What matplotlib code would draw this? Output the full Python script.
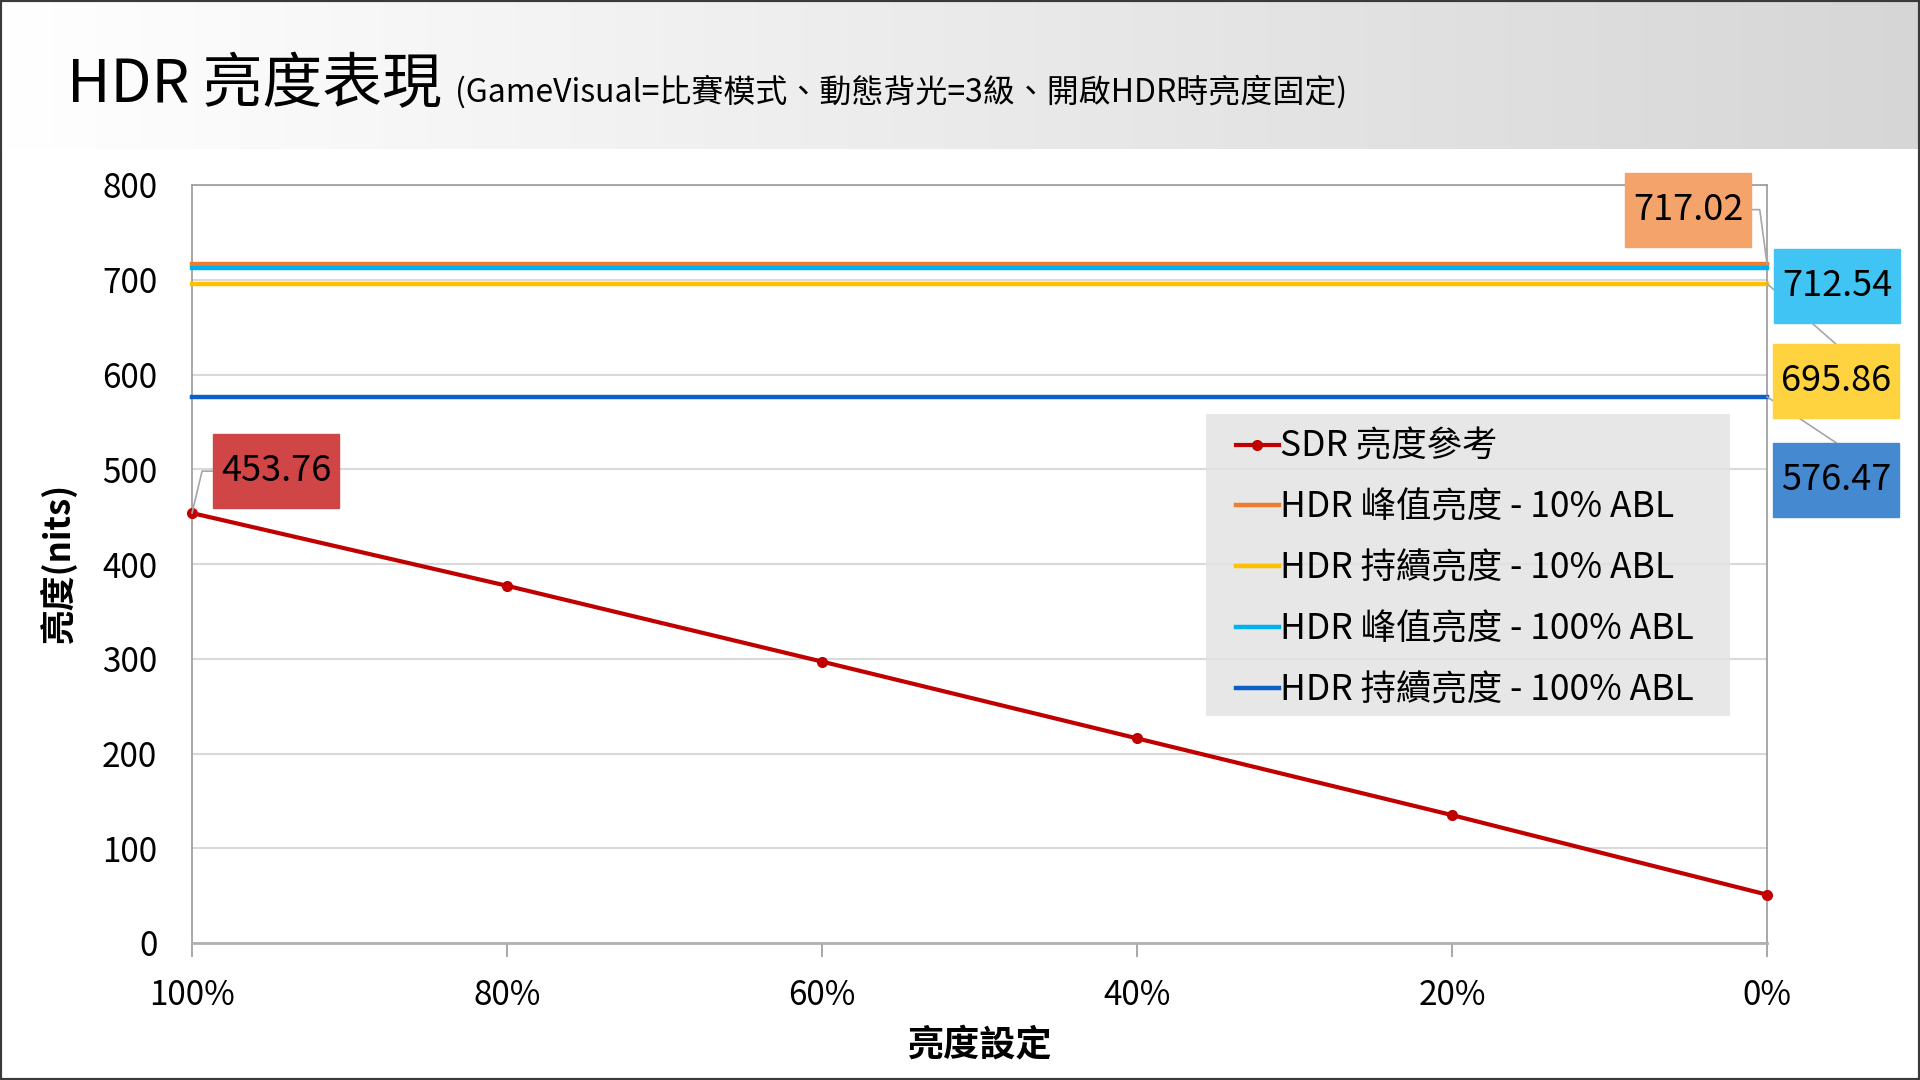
import numpy as np
import matplotlib
matplotlib.use("Agg")
import matplotlib.pyplot as plt
from matplotlib.patches import Rectangle

plt.rcParams["font.family"] = ["Noto Sans CJK TC", "DejaVu Sans"]

# data
settings = ["100%", "80%", "60%", "40%", "20%", "0%"]
sdr = [453.76, 377, 297, 216, 135, 51]
hdr_peak_10 = [717.02] * 6
hdr_sust_10 = [695.86] * 6
hdr_peak_100 = [712.54] * 6
hdr_sust_100 = [576.47] * 6

series_names = ["SDR 亮度參考", "HDR 峰值亮度 - 10% ABL", "HDR 持續亮度 - 10% ABL",
                "HDR 峰值亮度 - 100% ABL", "HDR 持續亮度 - 100% ABL"]
line_colors = ["#c00000", "#ed7d31", "#ffc000", "#00b0f0", "#0b5fc8"]
box_colors = ["#d04545", "#f4a36b", "#ffd23f", "#40c4f3", "#4589d0"]


def main() -> int:
    W, H = 1920, 1080
    fig = plt.figure(figsize=(19.2, 10.8), dpi=100)

    # header band with gradient
    hdr_h = 149 / H
    ax_head = fig.add_axes([0, 1 - hdr_h, 1, hdr_h], zorder=0)
    grad = np.linspace(1.0, 0.84, 256).reshape(1, -1)
    ax_head.imshow(np.dstack([grad, grad, grad]), aspect="auto", extent=[0, 1, 0, 1])
    ax_head.axis("off")

    fig.text(67 / W, 1 - 102 / H, "HDR 亮度表現", fontsize=43, fontweight="light",
             va="baseline", ha="left")
    fig.text(455 / W, 1 - 102 / H,
             "(GameVisual=比賽模式、動態背光=3級、開啟HDR時亮度固定)",
             fontsize=23, fontweight="light", va="baseline", ha="left")

    # plot area
    ax = fig.add_axes([192 / W, 1 - 943 / H, (1767 - 192) / W, (943 - 185) / H], zorder=2)
    x = np.arange(len(settings))

    ax.plot(x, sdr, color=line_colors[0], lw=3, marker="o", ms=7,
            label=series_names[0], clip_on=False, zorder=5)
    for vals, name, col in zip([hdr_peak_10, hdr_sust_10, hdr_peak_100, hdr_sust_100],
                               series_names[1:], line_colors[1:]):
        ax.plot(x, vals, color=col, lw=3.2, label=name, clip_on=False, zorder=4)

    ax.set_xlim(0, 5)
    ax.set_ylim(0, 800)
    ax.set_yticks(range(0, 801, 100))
    ax.set_xticks(x)
    ax.set_xticklabels(settings)
    ax.yaxis.grid(True, color="#d9d9d9", lw=1.5)
    ax.set_axisbelow(True)
    for s in ax.spines.values():
        s.set_color("#9a9a9a")
        s.set_linewidth(1.2)
    ax.spines["bottom"].set_color("#b0b0b0")
    ax.spines["bottom"].set_linewidth(2)
    ax.tick_params(axis="y", length=0, pad=25, labelsize=24)
    ax.tick_params(axis="x", length=10, width=1.2, color="#9a9a9a", pad=15, labelsize=24)

    ax.set_ylabel("亮度(nits)", fontsize=25, fontweight="bold", labelpad=18)
    ax.set_xlabel("亮度設定", fontsize=26, fontweight="bold", labelpad=10)

    # legend with its own backing box (semi-transparent, grid shows through)
    ax.add_patch(Rectangle((1206 / W, 1 - 716 / H), (1730 - 1206) / W, (716 - 414) / H,
                           transform=fig.transFigure, fc="#e3e3e3", ec="none",
                           alpha=0.85, zorder=5.5, clip_on=False))
    leg = ax.legend(loc="upper left", bbox_to_anchor=(1236 / W, 1 - 429 / H),
                    bbox_transform=fig.transFigure, fontsize=25.5, frameon=False,
                    handlelength=1.2, handletextpad=0.05, labelspacing=0.7,
                    borderpad=0, borderaxespad=0)
    leg.set_zorder(6)

    # data labels: (value, x index, label centre, colour, leader path side)
    labels = [
        (sdr[0], 0, (0.267, 498), box_colors[0], "left"),
        (hdr_peak_10[-1], 5, (4.749, 774), box_colors[1], "right"),
        (hdr_peak_100[-1], 5, (5.222, 693), box_colors[3], None),
        (hdr_sust_10[-1], 5, (5.219, 593), box_colors[2], "top"),
        (hdr_sust_100[-1], 5, (5.219, 489), box_colors[4], "top"),
    ]
    bw, bh = 126 / 315, 74 / 0.9475  # box size in data units
    for val, xi, (cx, cy), col, side in labels:
        ax.add_patch(Rectangle((cx - bw / 2, cy - bh / 2), bw, bh, fc=col, ec=col,
                               lw=1, clip_on=False, zorder=7))
        ax.text(cx, cy, f"{val:.2f}", ha="center", va="center", fontsize=26,
                zorder=8, clip_on=False)
        if side == "left":
            lx = [cx - bw / 2, cx - bw / 2 - 0.035, xi]
            ly = [cy, cy, val]
        elif side == "right":
            lx = [cx + bw / 2, cx + bw / 2 + 0.028, xi]
            ly = [cy, cy, val]
        elif side == "top":
            lx = [cx, xi]
            ly = [cy + bh / 2, val]
        else:
            continue
        ax.plot(lx, ly, color="#a6a6a6", lw=1.2, clip_on=False, zorder=6)

    # figure border
    fig.patches.append(Rectangle((0, 0), 1, 1, transform=fig.transFigure,
                                 fill=False, ec="#3a3a3a", lw=3, zorder=10))

    fig.savefig("out.png", dpi=100)
    return 0


if __name__ == "__main__":
    main()
